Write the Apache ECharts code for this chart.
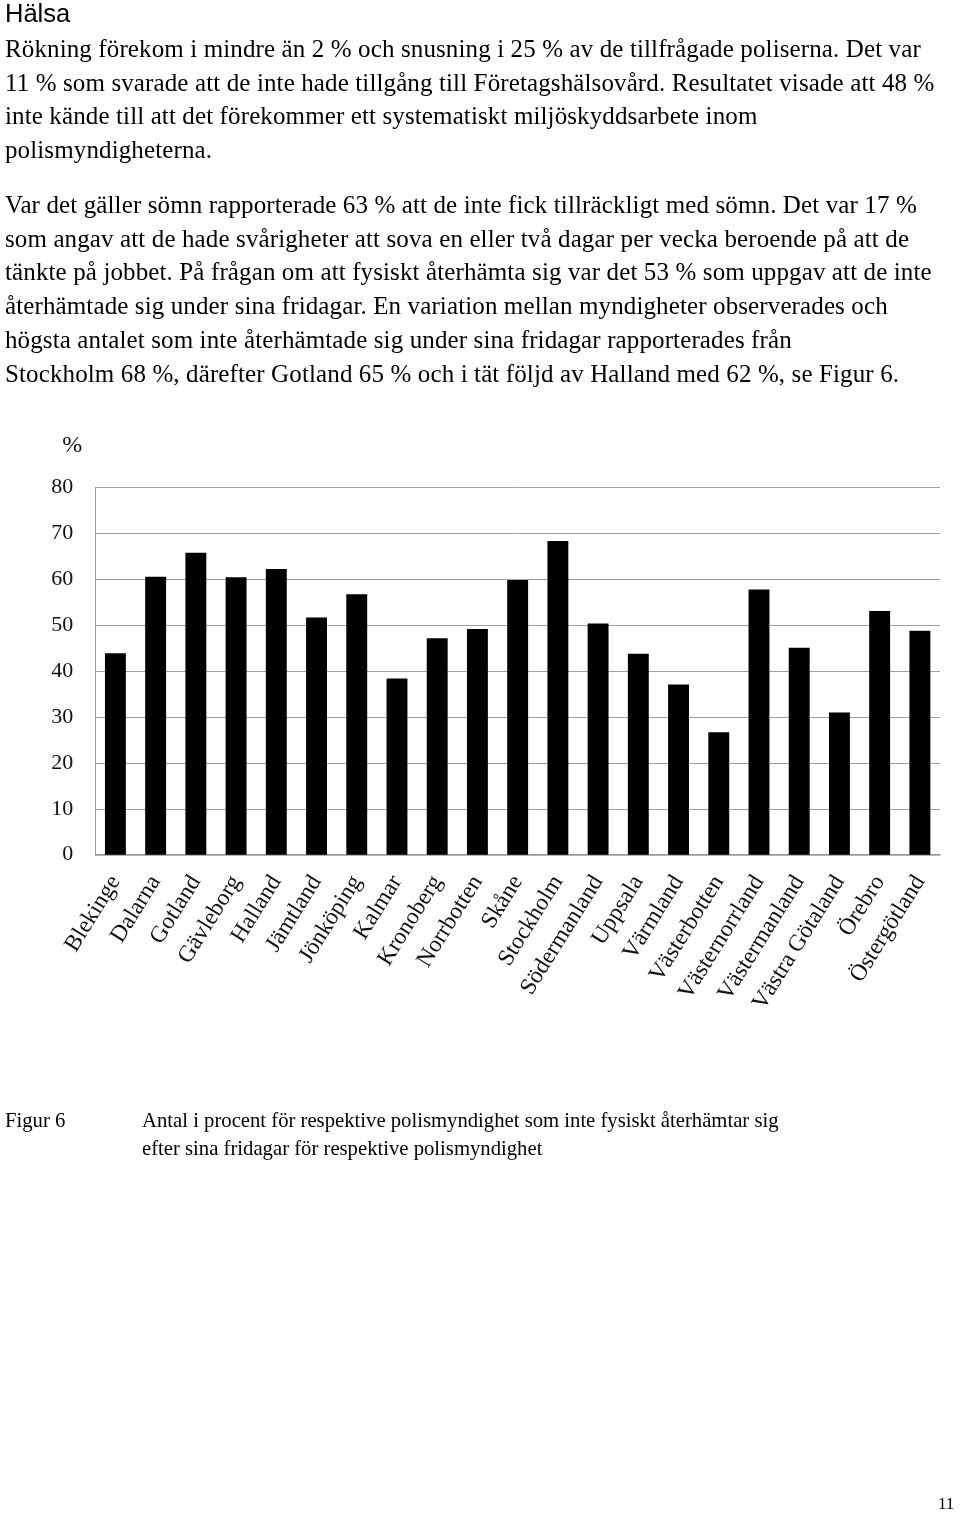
<!DOCTYPE html>
<html>
<head>
<meta charset="utf-8">
<script src="https://cdn.jsdelivr.net/npm/echarts@6/dist/echarts.min.js"></script>
<style>
  html, body { margin:0; padding:0; background:#fff; }
  body { width:960px; height:1519px; position:relative; overflow:hidden; }
  #chart { position:absolute; left:0; top:0; width:960px; height:1519px; }
  .txt { position:absolute; white-space:nowrap; color:#000; font-family:"Liberation Serif","Times New Roman",serif; }
  .h { left:5px; top:-2px; font-family:"Liberation Sans",Arial,sans-serif; font-size:25.5px; line-height:30px; }
  .p { left:5px; font-size:25px; letter-spacing:0.12px; line-height:33.7px; }
  .cap { font-size:20.7px; line-height:28px; }
</style>
</head>
<body>
<div id="chart"></div>
<div class="txt h">Hälsa</div>
<div class="txt p" style="top:32px">Rökning förekom i mindre än 2 % och snusning i 25 % av de tillfrågade poliserna. Det var<br>11 % som svarade att de inte hade tillgång till Företagshälsovård. Resultatet visade att 48 %<br>inte kände till att det förekommer ett systematiskt miljöskyddsarbete inom<br>polismyndigheterna.</div>
<div class="txt p" style="top:188px">Var det gäller sömn rapporterade 63 % att de inte fick tillräckligt med sömn. Det var 17 %<br>som angav att de hade svårigheter att sova en eller två dagar per vecka beroende på att de<br>tänkte på jobbet. På frågan om att fysiskt återhämta sig var det 53 % som uppgav att de inte<br>återhämtade sig under sina fridagar. En variation mellan myndigheter observerades och<br>högsta antalet som inte återhämtade sig under sina fridagar rapporterades från<br>Stockholm 68 %, därefter Gotland 65 % och i tät följd av Halland med 62 %, se Figur 6.</div>
<div class="txt cap" style="left:5px; top:1106px">Figur 6</div>
<div class="txt cap" style="left:142px; top:1106px">Antal i procent för respektive polismyndighet som inte fysiskt återhämtar sig<br>efter sina fridagar för respektive polismyndighet</div>
<div class="txt" style="left:938px; top:1494px; font-size:17px; line-height:20px;">11</div>
<script>
const categories = ["Blekinge","Dalarna","Gotland","Gävleborg","Halland","Jämtland","Jönköping","Kalmar","Kronoberg","Norrbotten","Skåne","Stockholm","Södermanland","Uppsala","Värmland","Västerbotten","Västernorrland","Västermanland","Västra Götaland","Örebro","Östergötland"];
const values = [43.9,60.6,65.8,60.5,62.3,51.7,56.8,38.4,47.2,49.2,59.9,68.4,50.4,43.8,37.1,26.7,57.8,45.1,31.0,53.1,48.8];
const yAxisName = "%";
const yMin = 0, yMax = 80, yStep = 10;

const chart = echarts.init(document.getElementById('chart'), null, {renderer:'canvas'});
const serif = '"Liberation Serif","Times New Roman",serif';
chart.setOption({
  animation:false,
  backgroundColor:'#fff',
  grid:{left:95.3, right:20, top:487.7, bottom:664.3, containLabel:false},
  xAxis:{
    type:'category',
    data:categories,
    axisLine:{show:true, lineStyle:{color:'#999', width:1.5}},
    axisTick:{show:false},
    axisLabel:{rotate:58, interval:0, margin:23, fontFamily:serif, fontSize:23.5, color:'#111'}
  },
  yAxis:{
    type:'value', min:yMin, max:yMax, interval:yStep,
    name:yAxisName, nameLocation:'end', nameGap:30,
    nameTextStyle:{fontFamily:serif, fontSize:24, color:'#111', align:'right', padding:[0,13,0,0]},
    axisLine:{show:true, lineStyle:{color:'#999', width:1}},
    axisTick:{show:false},
    axisLabel:{margin:22, fontFamily:serif, fontSize:22, color:'#111'},
    splitLine:{show:true, lineStyle:{color:'#a0a0a0', width:1}}
  },
  series:[{
    type:'bar',
    data:values,
    barCategoryGap:'48%',
    itemStyle:{color:'#000'}
  }]
});
</script>
</body>
</html>
